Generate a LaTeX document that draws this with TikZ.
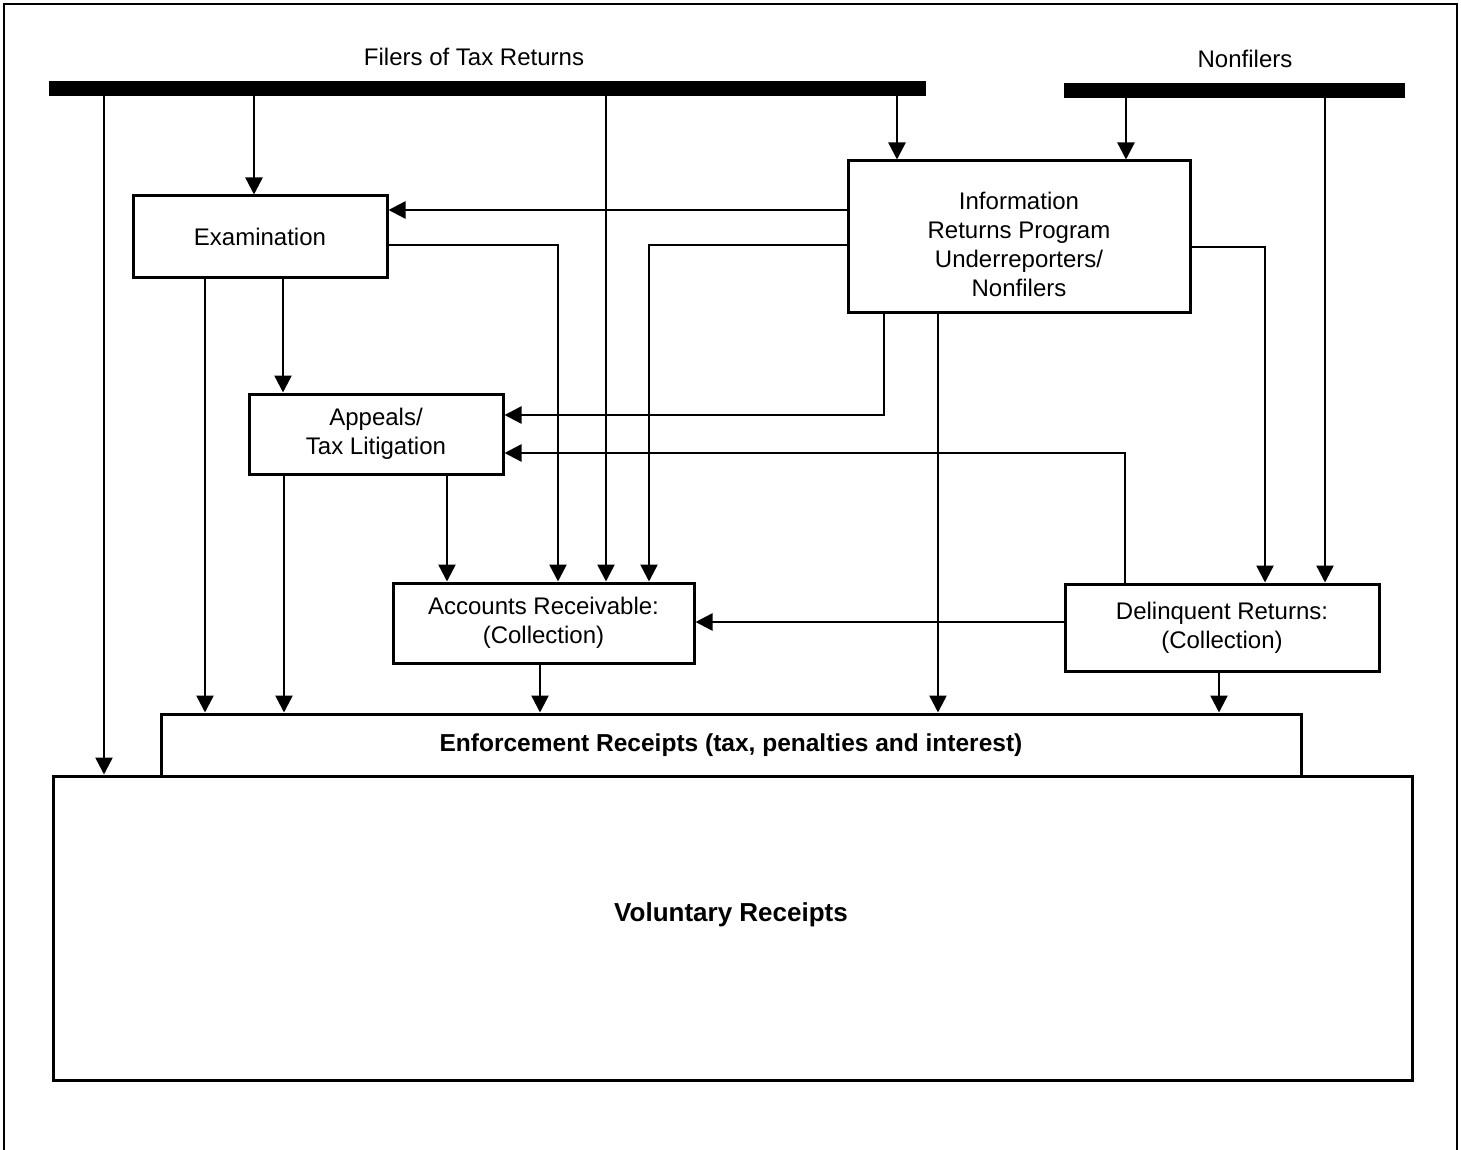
\documentclass[tikz,border=0pt]{standalone}
\usepackage{fontspec}
\setmainfont{Liberation Sans}
\usetikzlibrary{arrows.meta,calc}
\begin{document}
\begin{tikzpicture}[x=1pt,y=-1pt,
  txt/.style={font=\fontsize{24}{29}\selectfont,inner sep=0pt,align=center},
  box/.style={draw,line width=3pt,inner sep=0pt,align=center,font=\fontsize{24}{29}\selectfont},
  bar/.style={fill=black,inner sep=0pt,draw=none},
  arr/.style={line width=2.5pt,-{Triangle[length=17pt,width=17pt]}},
  frame/.style={line width=2pt}]
\useasboundingbox (0,0) rectangle (1461,1150);
\draw[frame] (4,1150) -- (4,4) -- (1457,4) -- (1457,1150);
% bars and labels
\node[bar,minimum width=877pt,minimum height=15pt] (filers) at (487.5,88.5) {};
\node[bar,minimum width=341pt,minimum height=15pt] (nonfilers) at (1234.5,90.5) {};
\node[txt] (lblf) at (474,57) {Filers of Tax Returns};
\node[txt] (lbln) at (1245,59) {Nonfilers};
% boxes
\node[box,minimum width=254pt,minimum height=82pt] (exam) at (260,237) {Examination};
\node[box,minimum width=342pt,minimum height=151pt,
  label={[txt,yshift=-7.5pt]center:{Information\\Returns Program\\Underreporters/\\Nonfilers}}] (irp) at (1019,236.5) {};
\node[box,minimum width=254pt,minimum height=80pt] (appeals) at (376,434) {Appeals/\\Tax Litigation};
\node[box,minimum width=301pt,minimum height=80pt] (ar) at (543.5,623) {Accounts Receivable:\\(Collection)};
\node[box,minimum width=314pt,minimum height=87pt] (dr) at (1222,627.5) {Delinquent Returns:\\(Collection)};
\node[box,minimum width=1359pt,minimum height=304pt] (vol) at (732.5,928) {};
\node[box,minimum width=1140pt,minimum height=62pt,font=\fontsize{24.5}{29}\selectfont\bfseries] (enf) at (731,745) {Enforcement Receipts (tax, penalties and interest)};
\node[txt,font=\fontsize{26}{30}\selectfont\bfseries] (voltxt) at (731,915) {Voluntary Receipts};
% vertical arrows from bars
\draw[arr] (filers.south -| 104,0) -- (vol.north -| 104,0);
\draw[arr] (filers.south -| 254,0) -- (exam.north -| 254,0);
\draw[arr] (filers.south -| 606,0) -- (ar.north -| 606,0);
\draw[arr] (filers.south -| 897,0) -- (irp.north -| 897,0);
\draw[arr] (nonfilers.south -| 1126,0) -- (irp.north -| 1126,0);
\draw[arr] (nonfilers.south -| 1325,0) -- (dr.north -| 1325,0);
% other arrows
\draw[arr] (irp.west |- 0,210) -- (exam.east |- 0,210);
\draw[arr] (irp.west |- 0,245) -| (ar.north -| 649,0);
\draw[arr] (exam.east |- 0,245) -| (ar.north -| 558,0);
\draw[arr] (irp.south -| 884,0) |- (appeals.east |- 0,415);
\draw[arr] (irp.east |- 0,247) -| (dr.north -| 1265,0);
\draw[arr] (dr.north -| 1125,0) |- (appeals.east |- 0,453);
\draw[arr] (dr.west |- 0,622) -- (ar.east |- 0,622);
\draw[arr] (exam.south -| 205,0) -- (enf.north -| 205,0);
\draw[arr] (exam.south -| 283,0) -- (appeals.north -| 283,0);
\draw[arr] (appeals.south -| 284,0) -- (enf.north -| 284,0);
\draw[arr] (appeals.south -| 447,0) -- (ar.north -| 447,0);
\draw[arr] (ar.south -| 540,0) -- (enf.north -| 540,0);
\draw[arr] (irp.south -| 938,0) -- (enf.north -| 938,0);
\draw[arr] (dr.south -| 1219,0) -- (enf.north -| 1219,0);
\end{tikzpicture}
\end{document}
